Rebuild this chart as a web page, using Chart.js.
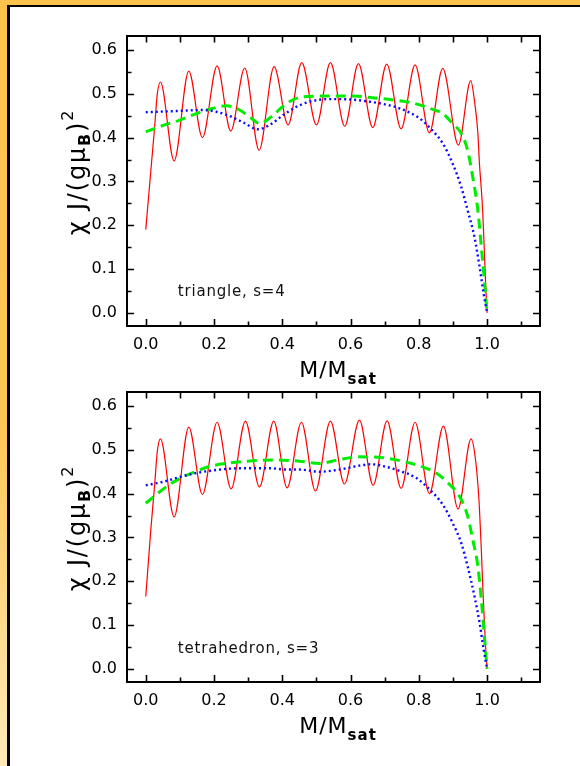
<!DOCTYPE html>
<html>
<head>
<meta charset="utf-8">
<script src="https://cdn.jsdelivr.net/npm/chart.js@4.4.1/dist/chart.umd.min.js"></script>
<style>
  html, body { margin: 0; padding: 0; }
  body {
    width: 580px; height: 766px; position: relative; overflow: hidden;
    background: linear-gradient(to bottom, #fdc24c 0%, #fdc654 55%, #ffeab8 100%);
  }
  #frame {
    position: absolute; left: 7px; top: 5px; right: 0; bottom: 0;
    background: #fff; border-top: 2px solid #000; border-left: 3px solid #000;
  }
  canvas { position: absolute; left: 0; }
  #chartTop { top: 0; }
  #chartBot { top: 356px; }
</style>
</head>
<body>
<div id="frame"></div>
<canvas id="chartTop" width="580" height="390"></canvas>
<canvas id="chartBot" width="580" height="390"></canvas>
<script>
// triangle, s=4
const triRedX = [0, 0.015, 0.026, 0.034, 0.043, 0.083, 0.126, 0.166, 0.209, 0.249, 0.290, 0.332, 0.376, 0.417, 0.457, 0.500, 0.541, 0.583, 0.623, 0.665, 0.706, 0.748, 0.789, 0.831, 0.870, 0.916, 0.952, 0.964, 0.973, 0.977, 0.987, 0.993, 0.997, 1.0];
const triRedY = [0.19, 0.326, 0.425, 0.501, 0.527, 0.347, 0.552, 0.400, 0.564, 0.415, 0.559, 0.371, 0.562, 0.429, 0.571, 0.429, 0.571, 0.426, 0.569, 0.423, 0.568, 0.420, 0.566, 0.411, 0.558, 0.383, 0.530, 0.478, 0.41, 0.349, 0.234, 0.12, 0.044, 0.0];
const triGreenX = [0, 0.051, 0.1, 0.148, 0.197, 0.236, 0.275, 0.305, 0.333, 0.373, 0.412, 0.46, 0.529, 0.607, 0.665, 0.724, 0.782, 0.839, 0.870, 0.899, 0.924, 0.943, 0.958, 0.973, 0.983, 0.992, 1.0];
const triGreenY = [0.413, 0.428, 0.44, 0.455, 0.467, 0.473, 0.463, 0.447, 0.432, 0.451, 0.478, 0.493, 0.495, 0.495, 0.491, 0.486, 0.479, 0.465, 0.455, 0.432, 0.41, 0.371, 0.31, 0.234, 0.151, 0.075, 0.0];
const triBlueX = [0, 0.1, 0.168, 0.207, 0.246, 0.285, 0.329, 0.363, 0.402, 0.44, 0.48, 0.538, 0.6, 0.656, 0.70, 0.743, 0.802, 0.839, 0.870, 0.899, 0.924, 0.943, 0.963, 0.978, 0.99, 1.0];
const triBlueY = [0.458, 0.461, 0.463, 0.459, 0.449, 0.435, 0.419, 0.429, 0.451, 0.47, 0.482, 0.488, 0.487, 0.482, 0.476, 0.467, 0.444, 0.417, 0.387, 0.341, 0.288, 0.234, 0.173, 0.105, 0.044, 0.0];

// tetrahedron, s=3
const tetRedX = [0, 0.015, 0.026, 0.034, 0.043, 0.083, 0.126, 0.166, 0.209, 0.25, 0.292, 0.333, 0.375, 0.414, 0.456, 0.497, 0.541, 0.582, 0.626, 0.666, 0.707, 0.748, 0.789, 0.831, 0.872, 0.915, 0.953, 0.966, 0.976, 0.983, 0.989, 0.995, 1.0];
const tetRedY = [0.165, 0.32, 0.42, 0.498, 0.525, 0.347, 0.552, 0.398, 0.563, 0.411, 0.5655, 0.415, 0.5655, 0.413, 0.563, 0.406, 0.5655, 0.422, 0.568, 0.419, 0.566, 0.412, 0.563, 0.40, 0.554, 0.365, 0.525, 0.478, 0.387, 0.273, 0.158, 0.059, 0.0];
const tetGreenX = [0, 0.031, 0.07, 0.109, 0.148, 0.187, 0.246, 0.314, 0.382, 0.45, 0.509, 0.568, 0.626, 0.695, 0.763, 0.811, 0.851, 0.89, 0.919, 0.943, 0.958, 0.973, 0.983, 0.992, 1.0];
const tetGreenY = [0.378, 0.398, 0.421, 0.438, 0.451, 0.462, 0.47, 0.475, 0.477, 0.474, 0.469, 0.478, 0.484, 0.482, 0.472, 0.461, 0.447, 0.421, 0.394, 0.349, 0.295, 0.234, 0.158, 0.075, 0.0];
const tetBlueX = [0, 0.051, 0.1, 0.148, 0.197, 0.246, 0.295, 0.363, 0.412, 0.45, 0.509, 0.568, 0.626, 0.66, 0.695, 0.743, 0.792, 0.831, 0.870, 0.899, 0.924, 0.943, 0.963, 0.978, 0.99, 1.0];
const tetBlueY = [0.419, 0.427, 0.438, 0.447, 0.453, 0.457, 0.458, 0.458, 0.455, 0.455, 0.450, 0.455, 0.464, 0.467, 0.463, 0.452, 0.436, 0.41, 0.375, 0.333, 0.288, 0.234, 0.166, 0.105, 0.044, 0.0];

// tick marks (labels come from the scales)
const xTickVals = [0, 0.1, 0.2, 0.3, 0.4, 0.5, 0.6, 0.7, 0.8, 0.9, 1.0, 1.1];
const yTickVals = [0, 0.05, 0.1, 0.15, 0.2, 0.25, 0.3, 0.35, 0.4, 0.45, 0.5, 0.55, 0.6];

const FONT = 'DejaVu Sans';

function pts(xs, ys) {
  return xs.map((x, i) => ({ x: x, y: ys[i] }));
}

// frame, inward ticks, axis titles with sub/superscripts, note text
function decorPlugin(note, noteX, noteY) {
  return {
    id: 'decor',
    afterDraw(chart) {
      const ctx = chart.ctx;
      const a = chart.chartArea;
      const xs = chart.scales.x;
      const ys = chart.scales.y;
      ctx.save();
      ctx.strokeStyle = '#000';
      ctx.lineWidth = 1.6;
      ctx.beginPath();
      xTickVals.forEach((v, i) => {
        const px = Math.round(xs.getPixelForValue(v)) + 0.5;
        const len = i % 2 === 0 ? 7 : 4.5;
        ctx.moveTo(px, a.bottom); ctx.lineTo(px, a.bottom - len);
        ctx.moveTo(px, a.top); ctx.lineTo(px, a.top + 6.5);
      });
      yTickVals.forEach((v, i) => {
        const py = Math.round(ys.getPixelForValue(v)) + 0.5;
        const len = i % 2 === 0 ? 7 : 4.5;
        ctx.moveTo(a.left, py); ctx.lineTo(a.left + len, py);
        ctx.moveTo(a.right, py); ctx.lineTo(a.right - len, py);
      });
      ctx.stroke();
      ctx.lineWidth = 2;
      ctx.strokeRect(a.left, a.top, a.right - a.left, a.bottom - a.top);

      ctx.fillStyle = '#000';
      ctx.textBaseline = 'alphabetic';
      ctx.textAlign = 'left';
      ctx.letterSpacing = '1px';

      // x title: M/M_sat
      ctx.font = '22px "' + FONT + '"';
      const w1 = ctx.measureText('M/M').width;
      ctx.font = 'bold 15px "' + FONT + '"';
      const w2 = ctx.measureText('sat').width;
      let tx = (a.left + a.right) / 2 + 4.5 - (w1 + w2) / 2;
      const ty = a.bottom + 51;
      ctx.font = '22px "' + FONT + '"';
      ctx.fillText('M/M', tx, ty);
      ctx.font = 'bold 15px "' + FONT + '"';
      ctx.fillText('sat', tx + w1, ty + 7);

      // y title: chi J/(g mu_B)^2, rotated
      ctx.letterSpacing = '1.8px';
      const segs = [
        { t: '\u03C7 J/(g\u03BC', f: '24px "' + FONT + '"', dy: 0 },
        { t: 'B', f: 'bold 16px "' + FONT + '"', dy: 5 },
        { t: ')', f: '24px "' + FONT + '"', dy: 0 },
        { t: '2', f: '16px "' + FONT + '"', dy: -12 }
      ];
      let total = 0;
      segs.forEach(s => { ctx.font = s.f; s.w = ctx.measureText(s.t).width; total += s.w; });
      ctx.save();
      ctx.translate(85, (a.top + a.bottom) / 2 - 9);
      ctx.rotate(-Math.PI / 2);
      let sx = -total / 2;
      segs.forEach(s => { ctx.font = s.f; ctx.fillText(s.t, sx, s.dy); sx += s.w; });
      ctx.restore();

      // note inside the plot
      ctx.font = '15px "' + FONT + '"';
      ctx.letterSpacing = '0.8px';
      ctx.textBaseline = 'middle';
      ctx.fillStyle = '#111';
      ctx.fillText(note, xs.getPixelForValue(noteX), ys.getPixelForValue(noteY));
      ctx.restore();
    }
  };
}

function makeChart(id, redX, redY, greenX, greenY, blueX, blueY, note, noteY) {
  const ctx = document.getElementById(id).getContext('2d');
  return new Chart(ctx, {
    type: 'line',
    data: {
      datasets: [
        { data: pts(blueX, blueY), borderColor: '#0a0aff', borderWidth: 2.4, borderDash: [2, 3] },
        { data: pts(greenX, greenY), borderColor: '#00ec00', borderWidth: 3, borderDash: [10, 6] },
        { data: pts(redX, redY), borderColor: '#ff0000', borderWidth: 1.2 }
      ]
    },
    options: {
      responsive: false,
      animation: false,
      devicePixelRatio: 1,
      layout: { padding: { top: 36, right: 40, left: 0, bottom: 0 } },
      elements: {
        point: { radius: 0 },
        line: { cubicInterpolationMode: 'monotone', fill: false }
      },
      plugins: { legend: { display: false }, tooltip: { enabled: false } },
      scales: {
        x: {
          type: 'linear', min: -0.055, max: 1.155,
          grid: { display: false, drawTicks: false },
          border: { display: false },
          ticks: {
            stepSize: 0.2, includeBounds: false, padding: 9, maxRotation: 0,
            color: '#000', font: { family: FONT, size: 16 },
            callback: v => v.toFixed(1)
          },
          afterFit: s => { s.height = 64; }
        },
        y: {
          min: -0.03, max: 0.632,
          grid: { display: false, drawTicks: false },
          border: { display: false },
          ticks: {
            stepSize: 0.1, includeBounds: false, padding: 10,
            color: '#000', font: { family: FONT, size: 16 },
            callback: v => v.toFixed(1)
          },
          afterFit: s => { s.width = 127; }
        }
      }
    },
    plugins: [decorPlugin(note, 0.094, noteY)]
  });
}

makeChart('chartTop', triRedX, triRedY, triGreenX, triGreenY, triBlueX, triBlueY, 'triangle, s=4', 0.048);
makeChart('chartBot', tetRedX, tetRedY, tetGreenX, tetGreenY, tetBlueX, tetBlueY, 'tetrahedron, s=3', 0.046);
</script>
</body>
</html>
